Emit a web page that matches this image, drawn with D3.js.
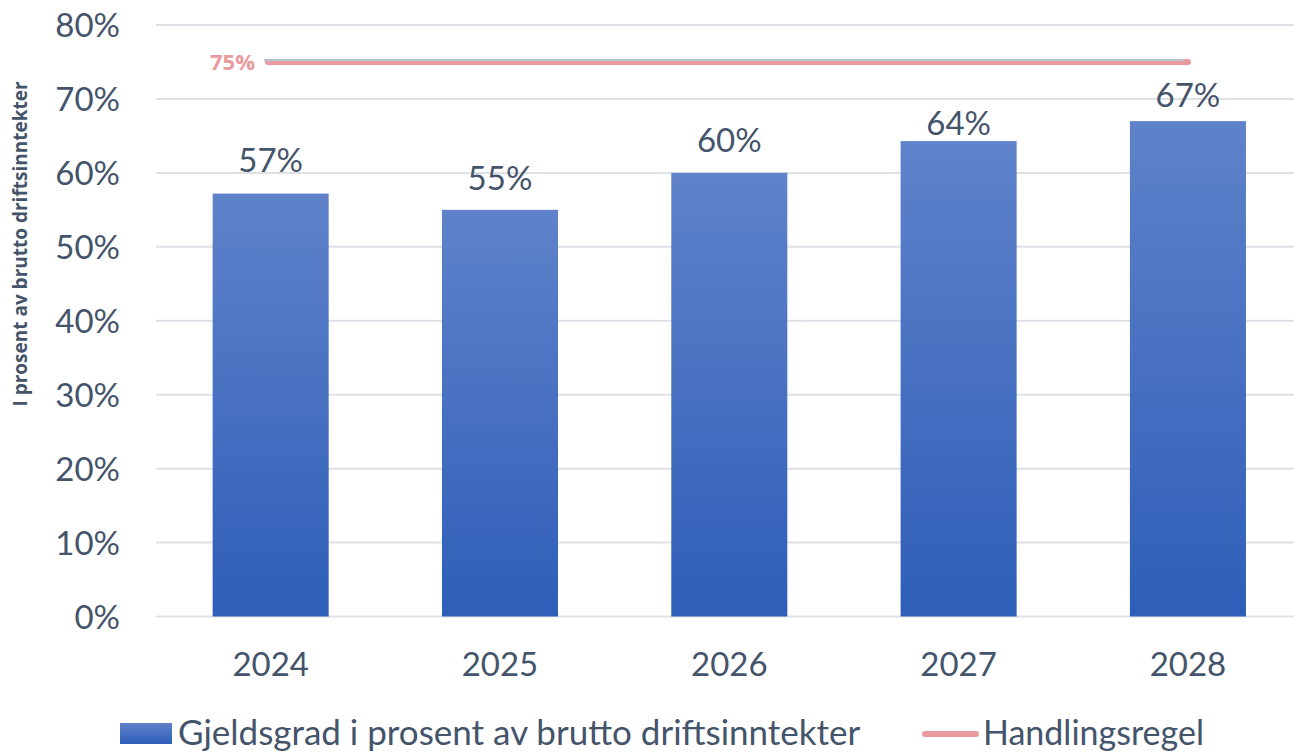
<!DOCTYPE html>
<html lang="no">
  <head>
    <meta charset="UTF-8" />
    <title>Gjeldsgrad</title>
    <script src="https://d3js.org/d3.v7.min.js"></script>
    <style>
      * {
        margin: 0;
        padding: 0;
      }
      body {
        background: #fff;
      }
      text {
        font-family: Lato, "Open Sans", sans-serif;
        fill: #44546a;
      }
    </style>
  </head>

  <body></body>

  <script>
    const years = ["2024", "2025", "2026", "2027", "2028"];
    const gjeldsgrad = [57.2, 55.0, 60.0, 64.3, 67.0];
    const handlingsregel = [75, 75, 75, 75, 75];
    const yTicks = [0, 10, 20, 30, 40, 50, 60, 70, 80];

    const w = 1294;
    const h = 752;

    const svg = d3
      .select("body")
      .append("svg")
      .attr("width", w)
      .attr("height", h);

    // gradient for bars
    const grad = svg
      .append("defs")
      .append("linearGradient")
      .attr("id", "barGrad")
      .attr("x1", 0)
      .attr("y1", 0)
      .attr("x2", 0)
      .attr("y2", 1);
    grad.append("stop").attr("offset", "0%").attr("stop-color", "#5f82ca");
    grad.append("stop").attr("offset", "100%").attr("stop-color", "#2e5eb8");

    const x = d3
      .scaleBand()
      .domain(years)
      .range([156, 1302.6])
      .paddingInner(0.494)
      .paddingOuter(0.247);

    const y = d3.scaleLinear().domain([0, 80]).range([616.5, 25]);

    // gridlines
    svg
      .append("g")
      .selectAll("line")
      .data(yTicks)
      .join("line")
      .attr("x1", 156)
      .attr("x2", w)
      .attr("y1", (d) => y(d))
      .attr("y2", (d) => y(d))
      .attr("stroke", "#dde1e6")
      .attr("stroke-width", 2);

    // y tick labels
    svg
      .append("g")
      .selectAll("text")
      .data(yTicks)
      .join("text")
      .attr("x", 120)
      .attr("y", (d) => y(d) + 12)
      .attr("text-anchor", "end")
      .style("font-size", "33px")
      .text((d) => d + "%");

    // bars
    svg
      .append("g")
      .selectAll("rect")
      .data(gjeldsgrad)
      .join("rect")
      .attr("x", (d, i) => x(years[i]))
      .attr("y", (d) => y(d))
      .attr("width", x.bandwidth())
      .attr("height", (d) => y(0) - y(d))
      .attr("fill", "url(#barGrad)");

    // data labels (the last two sit a bit lower, as in the original)
    const labelGap = { 2024: 22, 2025: 20, 2026: 21, 2027: 6, 2028: 14 };
    svg
      .append("g")
      .selectAll("text")
      .data(gjeldsgrad)
      .join("text")
      .attr("x", (d, i) => x(years[i]) + x.bandwidth() / 2)
      .attr("y", (d, i) => y(d) - labelGap[years[i]])
      .attr("text-anchor", "middle")
      .style("font-size", "33px")
      .text((d) => Math.round(d) + "%");

    // x labels
    svg
      .append("g")
      .selectAll("text")
      .data(years)
      .join("text")
      .attr("x", (d) => x(d) + x.bandwidth() / 2)
      .attr("y", 676)
      .attr("text-anchor", "middle")
      .style("font-size", "33px")
      .text((d) => d);

    // handlingsregel line
    const lineX = d3
      .scalePoint()
      .domain(years)
      .range([268, 1188]);
    const line = d3
      .line()
      .x((d, i) => lineX(years[i]))
      .y((d) => y(d));

    svg
      .append("path")
      .datum(handlingsregel)
      .attr("d", line)
      .attr("fill", "none")
      .attr("stroke", "#e99a9c")
      .attr("stroke-width", 6)
      .attr("stroke-linecap", "round");

    svg
      .append("path")
      .datum(handlingsregel)
      .attr("d", line)
      .attr("fill", "none")
      .attr("stroke", "#b8c2d2")
      .attr("stroke-width", 2)
      .attr("transform", "translate(-4,-2)");

    svg
      .append("text")
      .attr("x", 255)
      .attr("y", y(75) + 8)
      .attr("text-anchor", "end")
      .style("font-family", "'Open Sans', sans-serif")
      .style("font-size", "22px")
      .style("font-weight", "bold")
      .style("fill", "#e99a9c")
      .text(handlingsregel[0] + "%");

    // y axis title
    svg
      .append("text")
      .attr("transform", "translate(27,244) rotate(-90)")
      .attr("text-anchor", "middle")
      .style("font-family", "'Open Sans', sans-serif")
      .style("font-size", "19px")
      .style("font-weight", "bold")
      .text("I prosent av brutto driftsinntekter");

    // legend
    svg
      .append("rect")
      .attr("x", 120)
      .attr("y", 723)
      .attr("width", 52)
      .attr("height", 21)
      .attr("fill", "url(#barGrad)");
    svg
      .append("text")
      .attr("x", 178)
      .attr("y", 745)
      .style("font-size", "35px")
      .text("Gjeldsgrad i prosent av brutto driftsinntekter");

    svg
      .append("line")
      .attr("x1", 925)
      .attr("x2", 976)
      .attr("y1", 734)
      .attr("y2", 734)
      .attr("stroke", "#e99a9c")
      .attr("stroke-width", 6)
      .attr("stroke-linecap", "round");
    svg
      .append("text")
      .attr("x", 983)
      .attr("y", 745)
      .style("font-size", "34px")
      .text("Handlingsregel");
  </script>
</html>
